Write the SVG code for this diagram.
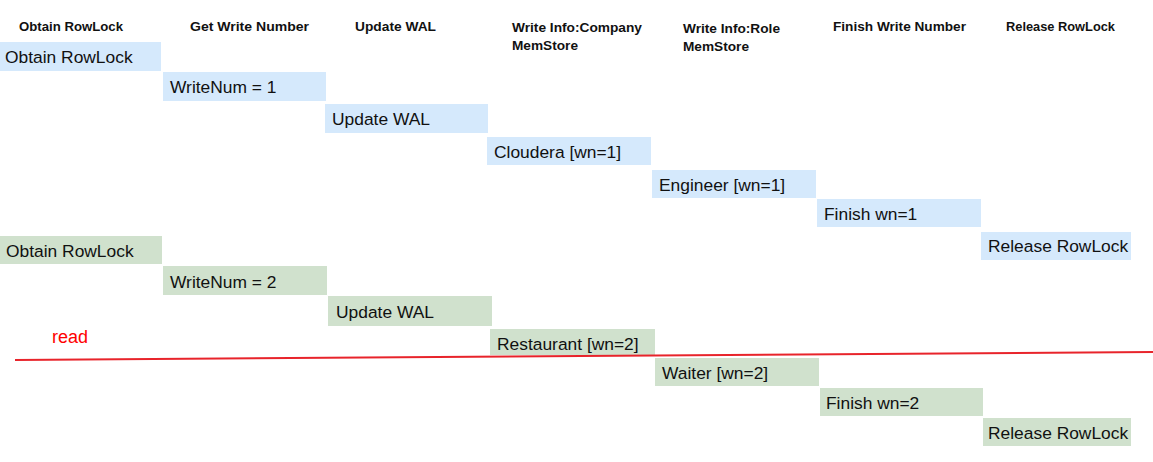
<svg xmlns="http://www.w3.org/2000/svg" width="1153" height="462" viewBox="0 0 1153 462">
<style>
.hd{font-family:"Liberation Sans",Arial,sans-serif;font-weight:bold;font-size:13px;fill:#111}
.bt{font-family:"Liberation Sans",Arial,sans-serif;font-size:17.4px;fill:#111}
.b{fill:#d5e9fc}
.g{fill:#d0e1cd}
</style>
<rect width="1153" height="462" fill="#fff"/>
<g id="headers">
<text class="hd" x="19" y="31" textLength="104" lengthAdjust="spacingAndGlyphs">Obtain RowLock</text>
<text class="hd" x="190" y="31" textLength="119" lengthAdjust="spacingAndGlyphs">Get Write Number</text>
<text class="hd" x="355" y="31" textLength="81" lengthAdjust="spacingAndGlyphs">Update WAL</text>
<text class="hd" x="512" y="32" textLength="130" lengthAdjust="spacingAndGlyphs">Write Info:Company</text>
<text class="hd" x="512" y="50" textLength="66" lengthAdjust="spacingAndGlyphs">MemStore</text>
<text class="hd" x="683" y="33" textLength="97" lengthAdjust="spacingAndGlyphs">Write Info:Role</text>
<text class="hd" x="683" y="51" textLength="66" lengthAdjust="spacingAndGlyphs">MemStore</text>
<text class="hd" x="833" y="31" textLength="133" lengthAdjust="spacingAndGlyphs">Finish Write Number</text>
<text class="hd" x="1006" y="31" textLength="109" lengthAdjust="spacingAndGlyphs">Release RowLock</text>
</g>
<g id="w1-obtain"><rect class="b" x="0" y="42" width="161" height="29"/><text class="bt" x="5" y="63">Obtain RowLock</text></g>
<g id="w1-writenum"><rect class="b" x="163" y="72" width="163" height="29"/><text class="bt" x="170" y="93">WriteNum = 1</text></g>
<g id="w1-wal"><rect class="b" x="325" y="104" width="163" height="29"/><text class="bt" x="332" y="125">Update WAL</text></g>
<g id="w1-company"><rect class="b" x="487" y="137" width="164" height="28"/><text class="bt" x="494" y="158">Cloudera [wn=1]</text></g>
<g id="w1-role"><rect class="b" x="652" y="170" width="164" height="28"/><text class="bt" x="659" y="191">Engineer [wn=1]</text></g>
<g id="w1-finish"><rect class="b" x="817" y="199" width="164" height="28"/><text class="bt" x="824" y="220">Finish wn=1</text></g>
<g id="w1-release"><rect class="b" x="981" y="232" width="150" height="28"/><text class="bt" x="988" y="252">Release RowLock</text></g>
<g id="w2-obtain"><rect class="g" x="0" y="236" width="162" height="28"/><text class="bt" x="6" y="257">Obtain RowLock</text></g>
<g id="w2-writenum"><rect class="g" x="163" y="266" width="164" height="29"/><text class="bt" x="170" y="288">WriteNum = 2</text></g>
<g id="w2-wal"><rect class="g" x="328" y="296" width="164" height="30"/><text class="bt" x="336" y="318">Update WAL</text></g>
<g id="w2-company"><rect class="g" x="490" y="329" width="165" height="26"/><text class="bt" x="497" y="350">Restaurant [wn=2]</text></g>
<g id="w2-role"><rect class="g" x="655" y="358" width="164" height="28"/><text class="bt" x="662" y="379">Waiter [wn=2]</text></g>
<g id="w2-finish"><rect class="g" x="820" y="388" width="163" height="28"/><text class="bt" x="826" y="409">Finish wn=2</text></g>
<g id="w2-release"><rect class="g" x="983" y="418" width="148" height="28"/><text class="bt" x="988" y="439">Release RowLock</text></g>
<g id="connectors">
<line x1="15" y1="360" x2="1153" y2="352" stroke="#e8242b" stroke-width="2"/>
<text x="52" y="343" font-family="'Liberation Sans',Arial,sans-serif" font-size="18" fill="#ff0000">read</text>
</g>
</svg>
